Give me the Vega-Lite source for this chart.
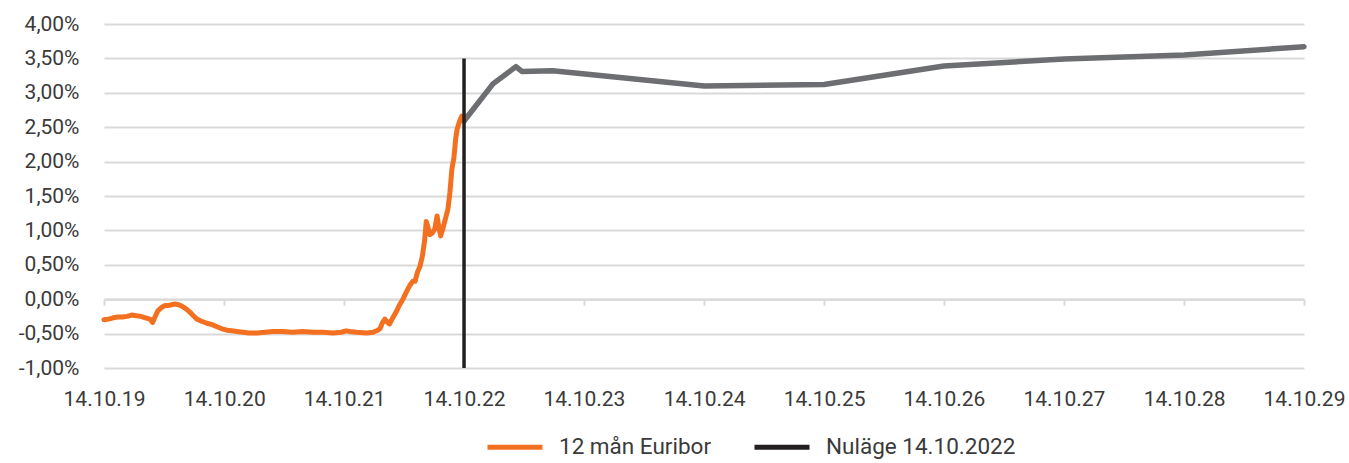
{
  "$schema": "https://vega.github.io/schema/vega-lite/v6.json",
  "width": 1200,
  "height": 344,
  "autosize": {"type": "none"},
  "padding": {"left": 104, "top": 24, "right": 45, "bottom": 95},
  "background": "white",
  "config": {
    "view": {"stroke": null},
    "font": "Roboto",
    "axis": {"labelFont": "Roboto", "labelFontSize": 21, "labelColor": "#3a3a3a", "title": null},
    "legend": {"labelFont": "Roboto", "labelFontSize": 22.5, "labelColor": "#3a3a3a", "labelLimit": 400}
  },
  "datasets": {
    "euribor": [
      {"date": "2019-10-14", "value": -0.30},
      {"date": "2019-10-28", "value": -0.29},
      {"date": "2019-11-11", "value": -0.27},
      {"date": "2019-11-25", "value": -0.26},
      {"date": "2019-12-09", "value": -0.26},
      {"date": "2019-12-23", "value": -0.25},
      {"date": "2020-01-06", "value": -0.23},
      {"date": "2020-01-20", "value": -0.24},
      {"date": "2020-02-03", "value": -0.25},
      {"date": "2020-02-17", "value": -0.27},
      {"date": "2020-03-02", "value": -0.29},
      {"date": "2020-03-10", "value": -0.34},
      {"date": "2020-03-16", "value": -0.27},
      {"date": "2020-03-26", "value": -0.17},
      {"date": "2020-04-06", "value": -0.12},
      {"date": "2020-04-17", "value": -0.09},
      {"date": "2020-04-28", "value": -0.09},
      {"date": "2020-05-07", "value": -0.08},
      {"date": "2020-05-17", "value": -0.07},
      {"date": "2020-05-28", "value": -0.08},
      {"date": "2020-06-07", "value": -0.10},
      {"date": "2020-06-20", "value": -0.14},
      {"date": "2020-07-02", "value": -0.19},
      {"date": "2020-07-12", "value": -0.24},
      {"date": "2020-07-23", "value": -0.29},
      {"date": "2020-08-06", "value": -0.32},
      {"date": "2020-08-22", "value": -0.35},
      {"date": "2020-09-07", "value": -0.37},
      {"date": "2020-09-22", "value": -0.40},
      {"date": "2020-10-07", "value": -0.43},
      {"date": "2020-10-22", "value": -0.45},
      {"date": "2020-11-06", "value": -0.46},
      {"date": "2020-11-22", "value": -0.47},
      {"date": "2020-12-10", "value": -0.48},
      {"date": "2020-12-28", "value": -0.49},
      {"date": "2021-01-22", "value": -0.49},
      {"date": "2021-02-15", "value": -0.48},
      {"date": "2021-03-11", "value": -0.47},
      {"date": "2021-04-10", "value": -0.47},
      {"date": "2021-05-10", "value": -0.48},
      {"date": "2021-06-10", "value": -0.47},
      {"date": "2021-07-10", "value": -0.48},
      {"date": "2021-08-11", "value": -0.48},
      {"date": "2021-09-10", "value": -0.49},
      {"date": "2021-10-05", "value": -0.48},
      {"date": "2021-10-20", "value": -0.46},
      {"date": "2021-11-01", "value": -0.47},
      {"date": "2021-11-20", "value": -0.48},
      {"date": "2021-12-22", "value": -0.49},
      {"date": "2022-01-10", "value": -0.48},
      {"date": "2022-01-24", "value": -0.45},
      {"date": "2022-01-31", "value": -0.43},
      {"date": "2022-02-08", "value": -0.34},
      {"date": "2022-02-15", "value": -0.29},
      {"date": "2022-02-22", "value": -0.33},
      {"date": "2022-03-01", "value": -0.36},
      {"date": "2022-03-10", "value": -0.28},
      {"date": "2022-03-22", "value": -0.18},
      {"date": "2022-04-01", "value": -0.08},
      {"date": "2022-04-11", "value": 0.00},
      {"date": "2022-04-22", "value": 0.11},
      {"date": "2022-05-02", "value": 0.20},
      {"date": "2022-05-11", "value": 0.26},
      {"date": "2022-05-18", "value": 0.26},
      {"date": "2022-05-25", "value": 0.39},
      {"date": "2022-06-02", "value": 0.48},
      {"date": "2022-06-09", "value": 0.62},
      {"date": "2022-06-16", "value": 0.85},
      {"date": "2022-06-21", "value": 1.13},
      {"date": "2022-06-26", "value": 1.05},
      {"date": "2022-07-02", "value": 0.94},
      {"date": "2022-07-09", "value": 0.96},
      {"date": "2022-07-17", "value": 1.02},
      {"date": "2022-07-24", "value": 1.21},
      {"date": "2022-07-29", "value": 1.05},
      {"date": "2022-08-04", "value": 0.92},
      {"date": "2022-08-12", "value": 1.05},
      {"date": "2022-08-20", "value": 1.20},
      {"date": "2022-08-26", "value": 1.31},
      {"date": "2022-09-01", "value": 1.55},
      {"date": "2022-09-07", "value": 1.89},
      {"date": "2022-09-13", "value": 2.05},
      {"date": "2022-09-19", "value": 2.35},
      {"date": "2022-09-23", "value": 2.47},
      {"date": "2022-09-30", "value": 2.58},
      {"date": "2022-10-07", "value": 2.66},
      {"date": "2022-10-14", "value": 2.64}
    ],
    "prognos": [
      {"date": "2022-10-14", "value": 2.59},
      {"date": "2023-01-10", "value": 3.13},
      {"date": "2023-03-21", "value": 3.38},
      {"date": "2023-04-08", "value": 3.31},
      {"date": "2023-07-11", "value": 3.32},
      {"date": "2024-10-14", "value": 3.10},
      {"date": "2025-10-14", "value": 3.12},
      {"date": "2026-10-14", "value": 3.39},
      {"date": "2027-10-14", "value": 3.49},
      {"date": "2028-10-14", "value": 3.55},
      {"date": "2029-10-14", "value": 3.67}
    ],
    "nulage": [
      {"date": "2022-10-14", "low": -1.0, "high": 3.5}
    ]
  },
  "layer": [
    {
      "data": {"name": "prognos"},
      "mark": {"type": "line", "stroke": "#6d6e71", "strokeWidth": 5.5, "strokeCap": "round", "strokeJoin": "round"},
      "encoding": {
        "x": {
          "field": "date", "type": "temporal",
          "scale": {"type": "utc", "domain": [{"year": 2019, "month": 10, "date": 14, "utc": true}, {"year": 2029, "month": 10, "date": 14, "utc": true}]},
          "axis": {
            "orient": "bottom", "offset": -68.8, "labels": false, "grid": false,
            "domain": true, "domainColor": "#d9d9d9", "domainWidth": 2,
            "ticks": true, "tickColor": "#d9d9d9", "tickWidth": 2, "tickSize": 6,
            "values": [
              {"year": 2019, "month": 10, "date": 14, "utc": true},
              {"year": 2020, "month": 10, "date": 14, "utc": true},
              {"year": 2021, "month": 10, "date": 14, "utc": true},
              {"year": 2022, "month": 10, "date": 14, "utc": true},
              {"year": 2023, "month": 10, "date": 14, "utc": true},
              {"year": 2024, "month": 10, "date": 14, "utc": true},
              {"year": 2025, "month": 10, "date": 14, "utc": true},
              {"year": 2026, "month": 10, "date": 14, "utc": true},
              {"year": 2027, "month": 10, "date": 14, "utc": true},
              {"year": 2028, "month": 10, "date": 14, "utc": true},
              {"year": 2029, "month": 10, "date": 14, "utc": true}
            ]
          }
        },
        "y": {
          "field": "value", "type": "quantitative",
          "scale": {"domain": [-1, 4], "nice": false, "zero": false},
          "axis": {
            "values": [-1, -0.5, 0, 0.5, 1, 1.5, 2, 2.5, 3, 3.5, 4],
            "labelExpr": "(datum.value < 0 ? '-' : '') + replace(format(abs(datum.value), '.2f'), '.', ',') + '%'",
            "labelOverlap": false,
            "domain": false, "ticks": false, "tickSize": 0, "labelPadding": 25,
            "grid": true, "gridColor": "#d9d9d9", "gridWidth": 2
          }
        }
      }
    },
    {
      "data": {"name": "euribor"},
      "mark": {"type": "line", "strokeWidth": 5, "strokeJoin": "round", "strokeCap": "round"},
      "encoding": {
        "x": {
          "field": "date", "type": "temporal",
          "axis": {
            "orient": "bottom", "grid": false, "domain": false, "ticks": false, "tickSize": 0,
            "labelPadding": 20, "labelExpr": "utcFormat(datum.value, '%d.%m.%y')", "labelFlush": false, "labelOverlap": false,
            "values": [
              {"year": 2019, "month": 10, "date": 14, "utc": true},
              {"year": 2020, "month": 10, "date": 14, "utc": true},
              {"year": 2021, "month": 10, "date": 14, "utc": true},
              {"year": 2022, "month": 10, "date": 14, "utc": true},
              {"year": 2023, "month": 10, "date": 14, "utc": true},
              {"year": 2024, "month": 10, "date": 14, "utc": true},
              {"year": 2025, "month": 10, "date": 14, "utc": true},
              {"year": 2026, "month": 10, "date": 14, "utc": true},
              {"year": 2027, "month": 10, "date": 14, "utc": true},
              {"year": 2028, "month": 10, "date": 14, "utc": true},
              {"year": 2029, "month": 10, "date": 14, "utc": true}
            ]
          }
        },
        "y": {
          "field": "value", "type": "quantitative",
          "axis": {
            "values": [-1, -0.5, 0, 0.5, 1, 1.5, 2, 2.5, 3, 3.5, 4],
            "labelExpr": "(datum.value < 0 ? '-' : '') + replace(format(abs(datum.value), '.2f'), '.', ',') + '%'",
            "labelOverlap": false,
            "domain": false, "ticks": false, "tickSize": 0, "labelPadding": 25,
            "grid": true, "gridColor": "#d9d9d9", "gridWidth": 2
          }
        },
        "color": {
          "datum": "12 mån Euribor",
          "scale": {"domain": ["12 mån Euribor", "Nuläge 14.10.2022"], "range": ["#f37021", "#231f20"]},
          "legend": {
            "title": null, "orient": "none", "direction": "horizontal",
            "legendX": 381, "legendY": 393,
            "symbolType": "stroke", "symbolSize": 3025, "symbolStrokeWidth": 5,
            "labelOffset": 14, "columnPadding": 32, "labelLimit": 400
          }
        }
      }
    },
    {
      "data": {"name": "nulage"},
      "mark": {"type": "rule", "strokeWidth": 3.5},
      "encoding": {
        "x": {"field": "date", "type": "temporal", "axis": null},
        "y": {
          "field": "low", "type": "quantitative",
          "axis": {
            "values": [-1, -0.5, 0, 0.5, 1, 1.5, 2, 2.5, 3, 3.5, 4],
            "labelExpr": "(datum.value < 0 ? '-' : '') + replace(format(abs(datum.value), '.2f'), '.', ',') + '%'",
            "labelOverlap": false,
            "domain": false, "ticks": false, "tickSize": 0, "labelPadding": 25,
            "grid": true, "gridColor": "#d9d9d9", "gridWidth": 2
          }
        },
        "y2": {"field": "high"},
        "color": {"datum": "Nuläge 14.10.2022"}
      }
    }
  ],
  "resolve": {"axis": {"x": "independent"}}
}
